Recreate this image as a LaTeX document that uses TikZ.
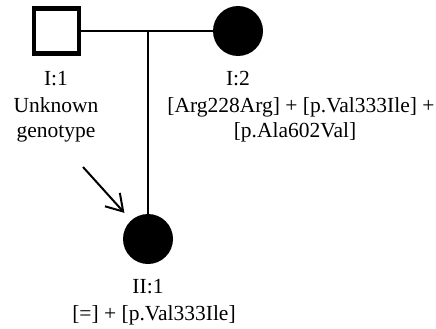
\documentclass[tikz,border=0pt]{standalone}
\usepackage{fontspec}
\setmainfont{Liberation Serif}
\usetikzlibrary{arrows.meta}
\begin{document}
\begin{tikzpicture}[x=1pt,y=-1pt,
  male/.style={draw,line width=4.4pt,minimum size=45pt,inner sep=0pt,rectangle},
  affected/.style={fill=black,circle,minimum size=50pt,inner sep=0pt},
  lbl/.style={font=\fontsize{21.5}{26}\selectfont,inner sep=0pt,anchor=base},
  link/.style={line width=2pt}]
\useasboundingbox (0,0) rectangle (436,329);
% generation I
\node[male] (i1) at (56.5,31) {};
\node[affected] (i2) at (238,31) {};
% generation II
\node[affected] (ii1) at (148,239) {};
% mating line and line of descent
\coordinate (m) at (148,31);
\draw[link] (i1.east) -- (i2.west);
\draw[link] (m) -- (ii1.north);
% proband arrow
\coordinate (pa) at (83,167);
\draw[link,shorten >=10pt,-{Straight Barb[length=16pt,width=20pt,line width=2pt]}] (pa) -- (ii1);
% labels
\node[lbl] (l1) at (56,85.5) {I:1};
\node[lbl] (l1b) at (56,112) {Unknown};
\node[lbl] (l1c) at (56,137) {genotype};
\node[lbl] (l2) at (238,85.5) {I:2};
\node[lbl] (l2b) at (301,112) {[Arg228Arg] + [p.Val333Ile] +};
\node[lbl] (l2c) at (295,137) {[p.Ala602Val]};
\node[lbl] (l3) at (148,293) {II:1};
\node[lbl] (l3b) at (154,320) {[=] + [p.Val333Ile]};
\end{tikzpicture}
\end{document}
